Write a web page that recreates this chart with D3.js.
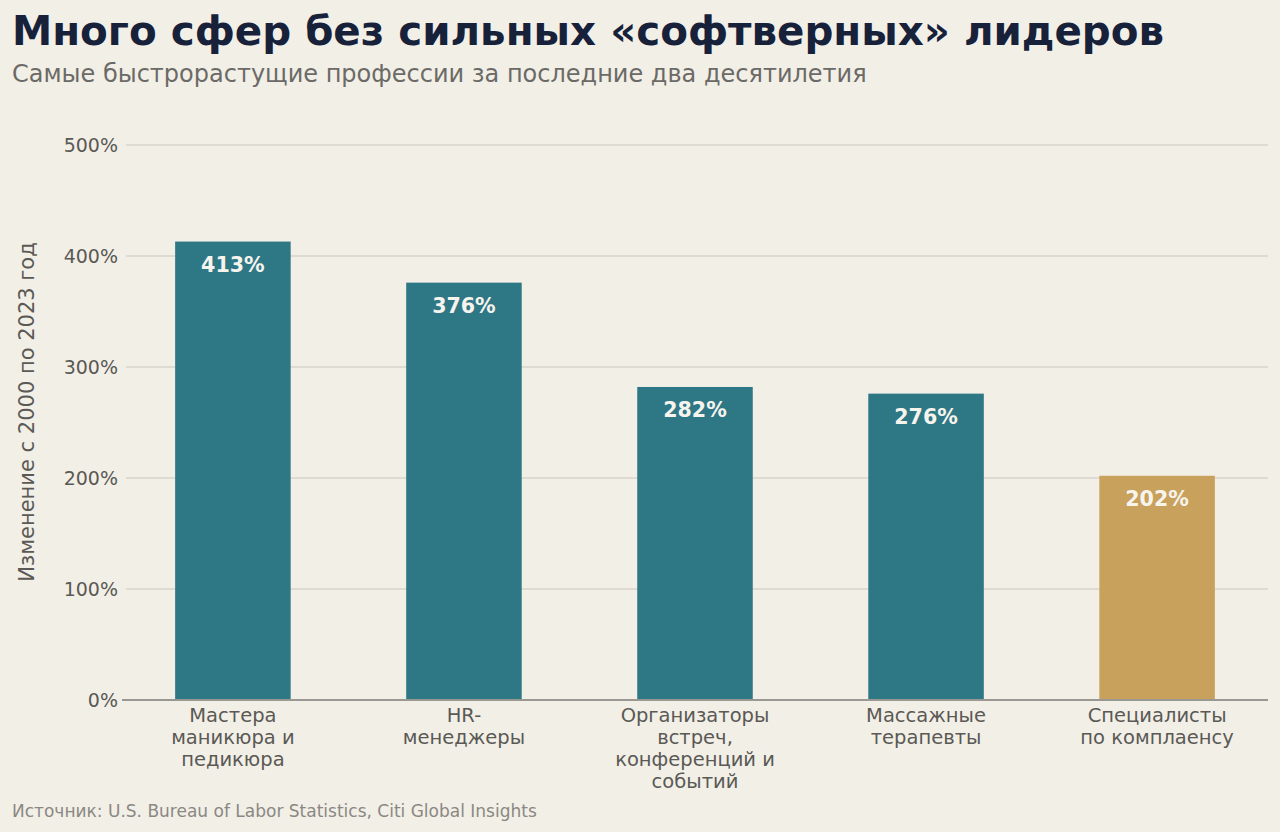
<!DOCTYPE html>
<html>
<head>
<meta charset="utf-8">
<script src="https://cdn.jsdelivr.net/npm/d3@7"></script>
<style>
  body { margin: 0; background: #f2efe7; }
  svg { display: block; font-family: "DejaVu Sans", sans-serif; }
</style>
</head>
<body>
<svg id="chart" width="1280" height="832"></svg>
<script>
"use strict";

// data
const categories = [
    ["Мастера", "маникюра и", "педикюра"],
    ["HR-", "менеджеры"],
    ["Организаторы", "встреч,", "конференций и", "событий"],
    ["Массажные", "терапевты"],
    ["Специалисты", "по комплаенсу"]
];
const values = [413, 376, 282, 276, 202];
const highlight = [false, false, false, false, true];
const yTicks = [0, 100, 200, 300, 400, 500];

const title = "Много сфер без сильных «софтверных» лидеров";
const subtitle = "Самые быстрорастущие профессии за последние два десятилетия";
const yLabel = "Изменение с 2000 по 2023 год";
const source = "Источник: U.S. Bureau of Labor Statistics, Citi Global Insights";

(function () {
    const svg = d3.select("#chart");
    const left = 122, right = 1268, top = 145, bottom = 700;

    const x = d3.scaleBand()
        .domain(d3.range(values.length))
        .range([left, right])
        .paddingInner(0.5)
        .paddingOuter(0.23);

    const y = d3.scaleLinear()
        .domain([0, 500])
        .range([bottom, top]);

    // header
    svg.append("text")
        .attr("x", 12).attr("y", 45)
        .attr("font-size", 40.4).attr("font-weight", "bold")
        .attr("fill", "#17223a")
        .text(title);
    svg.append("text")
        .attr("x", 12).attr("y", 82)
        .attr("font-size", 24)
        .attr("fill", "#6b6a66")
        .text(subtitle);

    // gridlines
    svg.append("g")
        .selectAll("line")
        .data(yTicks.filter(d => d > 0))
        .join("line")
        .attr("x1", left + 4).attr("x2", right)
        .attr("y1", d => y(d)).attr("y2", d => y(d))
        .attr("stroke", "#d8d5cc")
        .attr("stroke-width", 1.5);

    // y axis
    const yAxis = svg.append("g")
        .attr("transform", `translate(${left - 4},0)`)
        .call(d3.axisLeft(y).tickValues(yTicks).tickFormat(d => d + "%").tickSize(0).tickPadding(0));
    yAxis.select(".domain").remove();
    yAxis.selectAll("text")
        .attr("font-size", 19)
        .attr("font-family", "DejaVu Sans")
        .attr("fill", "#5a5955");

    svg.append("text")
        .attr("transform", `translate(34,412) rotate(-90)`)
        .attr("text-anchor", "middle")
        .attr("font-size", 21)
        .attr("fill", "#5a5955")
        .text(yLabel);

    // bars
    svg.append("g")
        .selectAll("rect")
        .data(values)
        .join("rect")
        .attr("x", (d, i) => x(i))
        .attr("y", d => y(d))
        .attr("width", x.bandwidth())
        .attr("height", d => bottom - y(d))
        .attr("fill", (d, i) => highlight[i] ? "#c8a15c" : "#2e7785");

    svg.append("g")
        .selectAll("text")
        .data(values)
        .join("text")
        .attr("x", (d, i) => x(i) + x.bandwidth() / 2)
        .attr("y", d => y(d) + 30)
        .attr("text-anchor", "middle")
        .attr("font-size", 20.6)
        .attr("font-weight", "bold")
        .attr("fill", "#f7f4ee")
        .text(d => d + "%");

    // baseline
    svg.append("line")
        .attr("x1", left).attr("x2", right)
        .attr("y1", bottom).attr("y2", bottom)
        .attr("stroke", "#9a9892")
        .attr("stroke-width", 2);

    // x labels
    const xl = svg.append("g")
        .selectAll("text")
        .data(categories)
        .join("text")
        .attr("x", (d, i) => x(i) + x.bandwidth() / 2)
        .attr("y", 722)
        .attr("text-anchor", "middle")
        .attr("font-size", 19.5)
        .attr("fill", "#5a5955");
    xl.selectAll("tspan")
        .data(d => d)
        .join("tspan")
        .attr("x", function () { return this.parentNode.getAttribute("x"); })
        .attr("dy", (d, i) => i === 0 ? 0 : 22)
        .text(d => d);

    // footer
    svg.append("text")
        .attr("x", 12).attr("y", 817)
        .attr("font-size", 17)
        .attr("fill", "#8a8883")
        .text(source);
})();
</script>
</body>
</html>
